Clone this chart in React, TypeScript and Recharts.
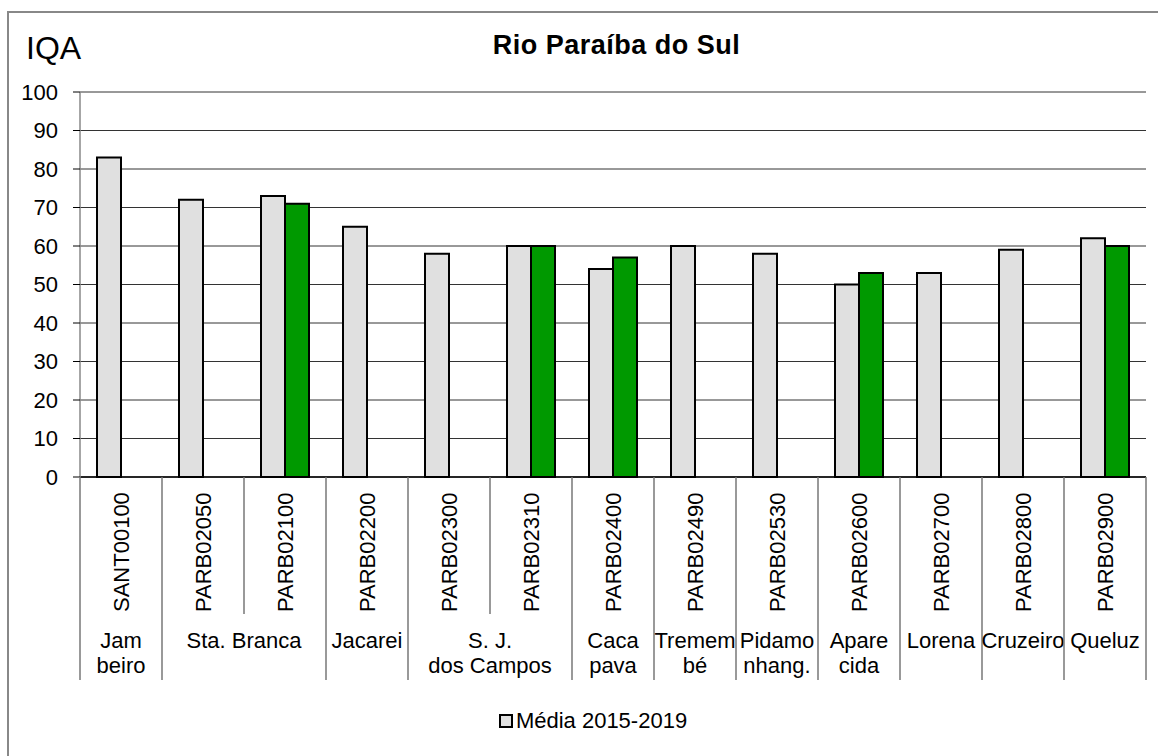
import React from "react";
import { BarChart, Bar, XAxis, YAxis, CartesianGrid, Legend } from "recharts";

const stationCodes = [
  "SANT00100", "PARB02050", "PARB02100", "PARB02200", "PARB02300", "PARB02310",
  "PARB02400", "PARB02490", "PARB02530", "PARB02600", "PARB02700", "PARB02800", "PARB02900",
];
const media20152019 = [83, 72, 73, 65, 58, 60, 54, 60, 58, 50, 53, 59, 62];
const ano2019 = [null, null, 71, null, null, 60, 57, null, null, 53, null, null, 60];
const groupLabels: string[][] = [
  ["Jam", "beiro"], ["Sta. Branca"], ["Jacarei"], ["S. J.", "dos Campos"], ["Caca", "pava"],
  ["Tremem", "bé"], ["Pidamo", "nhang."], ["Apare", "cida"], ["Lorena"], ["Cruzeiro"], ["Queluz"],
];
const groupSpans = [1, 2, 1, 2, 1, 1, 1, 1, 1, 1, 1];
const yTicks = [0, 10, 20, 30, 40, 50, 60, 70, 80, 90, 100];

const data = stationCodes.map((code, i) => ({ code, media: media20152019[i], ano: ano2019[i] }));

// group start index -> group info
const groupStarts: Record<number, { labels: string[]; span: number }> = {};
{
  let idx = 0;
  groupSpans.forEach((s, g) => {
    groupStarts[idx] = { labels: groupLabels[g], span: s };
    idx += s;
  });
}

const W = 1158;
const H = 756;
const M_LEFT = 0;
const Y_W = 80;
const M_RIGHT = 12;
const M_TOP = 92;
const PLOT_BOTTOM = 477;
const PLOT_W = W - M_LEFT - Y_W - M_RIGHT;
const BW = PLOT_W / stationCodes.length;
const FONT = "'Liberation Sans', Arial, sans-serif";
const SEP = "#777";

const XTick = (props: any) => {
  const { x, payload } = props;
  const i = payload.index;
  const left = x - BW / 2;
  const g = groupStarts[i];
  const isLast = i === stationCodes.length - 1;
  return (
    <g>
      <line x1={left} x2={left} y1={PLOT_BOTTOM} y2={g ? 680 : 614} stroke={SEP} strokeWidth={1.5} />
      {isLast && (
        <line x1={x + BW / 2} x2={x + BW / 2} y1={PLOT_BOTTOM} y2={680} stroke={SEP} strokeWidth={1.5} />
      )}
      <text
        transform={`translate(${x},612) rotate(-90)`}
        textAnchor="start"
        dy="0.35em"
        fontSize={22}
        fontFamily={FONT}
        fill="#000"
      >
        {payload.value}
      </text>
      {g &&
        g.labels.map((t, k) => (
          <text
            key={k}
            x={left + (g.span * BW) / 2}
            y={648 + k * 25}
            textAnchor="middle"
            fontSize={22}
            fontFamily={FONT}
            fill="#000"
          >
            {t}
          </text>
        ))}
    </g>
  );
};

const LegendContent = (props: any) => {
  const items = (props.payload || []).filter((p: any) => p.type !== "none");
  return (
    <div style={{ display: "flex", justifyContent: "center", alignItems: "center", fontFamily: FONT, fontSize: 22 }}>
      {items.map((p: any, k: number) => (
        <div key={k} style={{ display: "flex", alignItems: "center" }}>
          <span
            style={{
              display: "inline-block",
              width: 10,
              height: 10,
              background: "#e0e0e0",
              border: "2px solid #000",
              marginRight: 3,
            }}
          />
          <span style={{ color: "#000" }}>{p.value}</span>
        </div>
      ))}
    </div>
  );
};

export default function App() {
  return (
    <div style={{ position: "absolute", left: 0, top: 0, width: W, height: H, background: "#fff", overflow: "hidden" }}>
      <div
        style={{
          position: "absolute",
          left: 7,
          top: 11,
          width: W,
          height: H,
          borderTop: "2px solid #888",
          borderLeft: "2px solid #888",
        }}
      />
      <BarChart
        width={W}
        height={H}
        data={data}
        margin={{ top: M_TOP, right: M_RIGHT, left: M_LEFT, bottom: 0 }}
        barCategoryGap={17}
        barGap={0}
      >
        <CartesianGrid vertical={false} stroke="#333" strokeWidth={1} />
        <XAxis
          dataKey="code"
          height={H - PLOT_BOTTOM}
          interval={0}
          tickLine={false}
          axisLine={{ stroke: "#000", strokeWidth: 1.5 }}
          tick={<XTick />}
        />
        <YAxis
          width={Y_W}
          domain={[0, 100]}
          ticks={yTicks}
          interval={0}
          tickSize={7}
          tickMargin={15}
          tickLine={{ stroke: "#000" }}
          axisLine={{ stroke: "#888", strokeWidth: 1.5 }}
          tick={{ fontSize: 22, fontFamily: FONT, fill: "#000" }}
        />
        <Legend
          verticalAlign="middle"
          align="center"
          layout="horizontal"
          wrapperStyle={{ top: 708, left: 14, width: W }}
          content={<LegendContent />}
        />
        <Bar dataKey="media" name="Média 2015-2019" fill="#e0e0e0" stroke="#000" strokeWidth={2} isAnimationActive={false} />
        <Bar dataKey="ano" name="2019" legendType="none" fill="#009900" stroke="#000" strokeWidth={2} isAnimationActive={false} />
      </BarChart>
      <div
        style={{
          position: "absolute",
          left: 26,
          top: 30,
          fontFamily: FONT,
          fontSize: 32,
          lineHeight: "36px",
          color: "#000",
        }}
      >
        IQA
      </div>
      <div
        style={{
          position: "absolute",
          left: 0,
          width: 1233,
          top: 30,
          textAlign: "center",
          fontFamily: FONT,
          fontSize: 27,
          fontWeight: "bold",
          letterSpacing: 0.5,
          lineHeight: "30px",
          color: "#000",
        }}
      >
        Rio Paraíba do Sul
      </div>
    </div>
  );
}
